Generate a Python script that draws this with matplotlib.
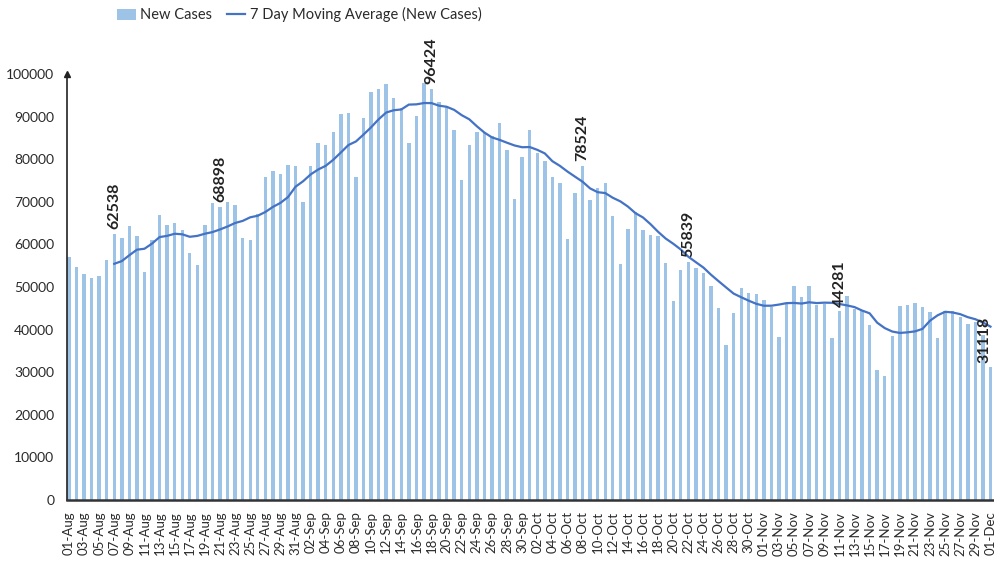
import pandas as pd
import matplotlib
matplotlib.use('Agg')
import matplotlib.pyplot as plt
from matplotlib.patches import Patch
from matplotlib.lines import Line2D

# Daily new cases (01-Aug .. 01-Dec)
aug_cases = [57118, 54735, 52972, 52050, 52509, 56282, 62538, 61537, 64399, 62064,
             53601, 60963, 66999, 64553, 65002, 63490, 57981, 55079, 64531, 69652,
             68898, 69878, 69239, 61408, 60975, 67151, 75760, 77266, 76472, 78761,
             78512]
sep_cases = [69921, 78357, 83883, 83341, 86432, 90632, 90802, 75809, 89706, 95735,
             96551, 97570, 94372, 92071, 83809, 90123, 97894, 96424, 93337, 92605,
             86961, 75083, 83347, 86508, 86052, 85362, 88600, 82170, 70589, 80472]
oct_cases = [86821, 81484, 79476, 75829, 74442, 61267, 72049, 78524, 70496, 73272,
             74383, 66732, 55342, 63509, 67708, 63371, 62212, 61871, 55722, 46790,
             54044, 55839, 54366, 53370, 50129, 45148, 36470, 43893, 49881, 48648,
             48268]
nov_cases = [46963, 45231, 38310, 46253, 50209, 47638, 50356, 45674, 45903, 38073,
             44281, 47905, 44878, 44684, 41100, 30548, 29163, 38617, 45576, 45882,
             46232, 45209, 44059, 37975, 44376, 44489, 43082, 41322, 41810, 38772]
dec_cases = [31118]

# dates that carry a value label above the bar
labelled_dates = ['07-Aug', '21-Aug', '18-Sep', '08-Oct', '22-Oct', '11-Nov', '01-Dec']

dates = pd.date_range('2020-08-01', '2020-12-01', freq='D')
df = pd.DataFrame({'label': dates.strftime('%d-%b'),
                   'cases': aug_cases + sep_cases + oct_cases + nov_cases + dec_cases})
df['ma7'] = df['cases'].rolling(7).mean()

bar_color = '#9dc3e6'
line_color = '#4472c4'
plt.rcParams['font.family'] = ['Lato', 'DejaVu Sans']

fig = plt.figure(figsize=(9.95, 5.71), dpi=100)
ax = fig.add_axes([0.067, 0.1243, 0.933, 0.746])

x = list(range(len(df)))
ax.bar(x, df['cases'], width=0.45, color=bar_color, zorder=1)
ax.plot(x, df['ma7'], color=line_color, linewidth=1.6, zorder=2)

# value labels (last one nudged left so it stays inside the picture)
for d in labelled_dates:
    i = df.index[df['label'] == d][0]
    dx = -4 if i == len(df) - 1 else 0
    ax.annotate(str(df.loc[i, 'cases']), (i, df.loc[i, 'cases']),
                xytext=(dx, 3.5), textcoords='offset points', rotation=90,
                ha='center', va='bottom', fontsize=11.5, fontweight='bold',
                color='#222222', zorder=3, annotation_clip=False)

ax.set_xlim(-0.3, len(df) - 0.4)
ax.set_ylim(0, 100000)
ax.set_yticks(range(0, 100001, 10000))
ax.set_xticks(x[::2])
ax.set_xticklabels(df['label'][::2], rotation=90, fontsize=9.5, color='#2a2a2a')
ax.tick_params(axis='y', length=0, labelsize=10, labelcolor='#2a2a2a', pad=9)
ax.tick_params(axis='x', length=0, pad=8)

for s in ['top', 'right']:
    ax.spines[s].set_visible(False)
ax.spines['left'].set_color('#222222')
ax.spines['left'].set_linewidth(1.2)
ax.spines['bottom'].set_color('#333333')
ax.spines['bottom'].set_linewidth(1.8)
# arrow head on top of the y axis
ax.plot([0], [1.0], marker='^', markersize=4, color='#222222',
        transform=ax.transAxes, clip_on=False)

handles = [Patch(facecolor=bar_color, edgecolor='none', label='New Cases'),
           Line2D([0], [0], color=line_color, linewidth=1.6,
                  label='7 Day Moving Average (New Cases)')]
fig.legend(handles=handles, loc='upper left', bbox_to_anchor=(0.104, 1.01),
           ncol=2, frameon=False, fontsize=10.5, handlelength=1.3,
           handleheight=0.8, handletextpad=0.3, columnspacing=1.0,
           labelcolor='#2a2a2a')

fig.savefig('out.png', dpi=100)
